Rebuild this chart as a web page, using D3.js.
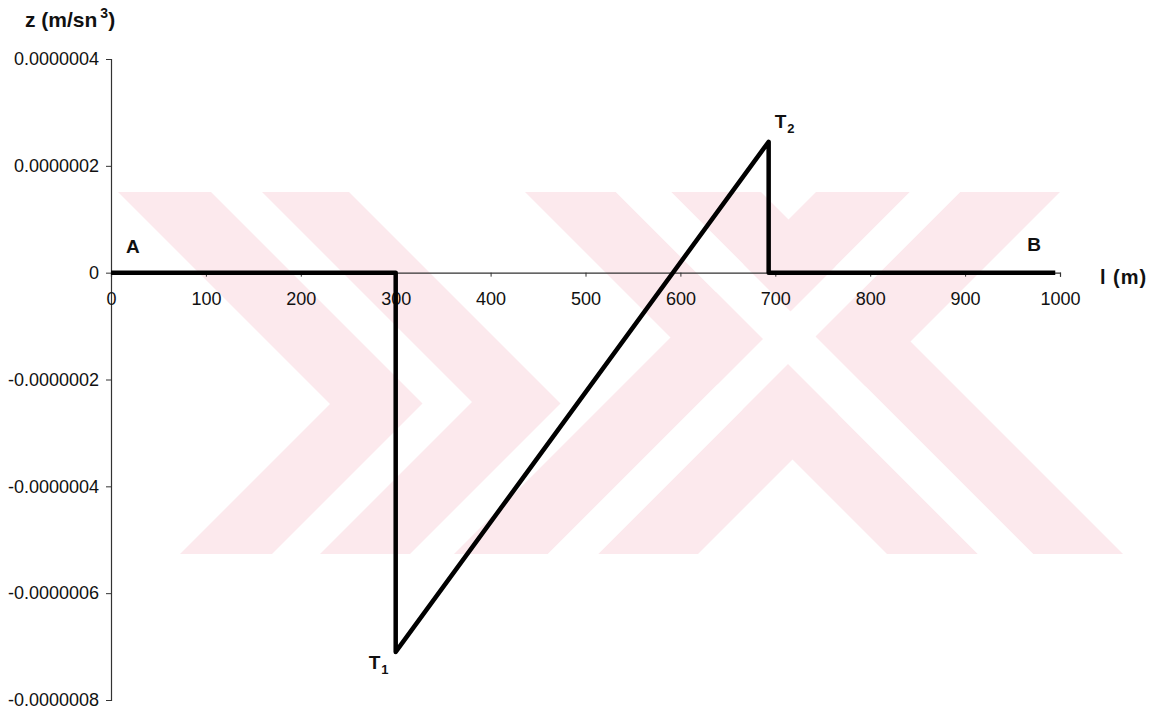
<!DOCTYPE html>
<html>
<head>
<meta charset="utf-8">
<script src="https://cdn.jsdelivr.net/npm/d3@7/dist/d3.min.js"></script>
<style>
  body { margin: 0; background: #ffffff; }
  svg { display: block; }
  text { font-family: Arial, "Liberation Sans", sans-serif; fill: #111; }
</style>
</head>
<body>
<svg id="chart" width="1156" height="715"></svg>
<script>
// Distance along the section, l (m)
const distance = [0, 300, 300, 693, 693, 995];
// Jerk z (m/sn^3) at each distance
const zValues = [0, 0, -7.1e-7, 2.45e-7, 0, 0];

// Axis ticks
const xTicks = [0, 100, 200, 300, 400, 500, 600, 700, 800, 900, 1000];
const yTicks = [-8e-7, -6e-7, -4e-7, -2e-7, 0, 2e-7, 4e-7];
const yTickLabels = ["-0.0000008", "-0.0000006", "-0.0000004", "-0.0000002", "0", "0.0000002", "0.0000004"];

// Named points on the profile
const pointNames = ["A", "B", "T", "T"];
const pointSubs = ["", "", "1", "2"];
const pointIndex = [0, 5, 2, 3];

const svg = d3.select("#chart");

// Faint background stamp: chevrons and crossed diagonal bands
const stampColor = "#fce9ed";
const stampBands = [
  [[118,192],[211,192],[422.5,403.5],[272,554],[180,554],[330,404]],
  [[262,192],[349,192],[560.5,403.5],[410,554],[320,554],[472,402]],
  [[816,192],[910,192],[548,554],[454,554]],
  [[960,192],[1060,192],[698,554],[598,554]],
  [[525,192],[616,192],[978,554],[887,554]],
  [[671,192],[761,192],[1123,554],[1033,554]]
];
// Gaps that run unbroken through the crossing
const stampGaps = [
  [[910,192],[960,192],[598,554],[548,554]],
  [[616,192],[671,192],[1033,554],[978,554]]
];
const stampLayer = svg.append("g");
stampLayer.selectAll("polygon.band")
  .data(stampBands)
  .join("polygon")
  .attr("class", "band")
  .attr("points", d => d.map(p => p.join(",")).join(" "))
  .attr("fill", stampColor);
stampLayer.selectAll("polygon.gap")
  .data(stampGaps)
  .join("polygon")
  .attr("class", "gap")
  .attr("points", d => d.map(p => p.join(",")).join(" "))
  .attr("fill", "#ffffff");

const x = d3.scaleLinear().domain([0, 1000]).range([111, 1060]);
const y = d3.scaleLinear().domain([-8e-7, 4e-7]).range([700, 59]);

// Vertical axis on the left
const yAxis = d3.axisLeft(y)
  .tickValues(yTicks)
  .tickFormat((d, i) => yTickLabels[i])
  .tickSizeOuter(0)
  .tickSize(5)
  .tickPadding(7);
const gy = svg.append("g").attr("transform", `translate(${x(0)},0)`).call(yAxis);
gy.select(".domain").attr("stroke", "#333").attr("stroke-width", 1.2);
gy.selectAll(".tick line").attr("stroke", "#333");
gy.selectAll(".tick text").attr("font-size", 18).attr("fill", "#111")
  .attr("font-family", "Arial, 'Liberation Sans', sans-serif");

// Horizontal axis through z = 0
const xAxis = d3.axisBottom(x)
  .tickValues(xTicks)
  .tickFormat(d3.format("d"))
  .tickSizeOuter(0)
  .tickSize(4)
  .tickPadding(16);
const gx = svg.append("g").attr("transform", `translate(0,${y(0)})`).call(xAxis);
gx.select(".domain").attr("stroke", "#333").attr("stroke-width", 1.2);
gx.selectAll(".tick line").attr("stroke", "#333");
gx.selectAll(".tick text").attr("font-size", 18).attr("fill", "#111")
  .attr("font-family", "Arial, 'Liberation Sans', sans-serif");

// Profile line
const pts = distance.map((d, i) => [d, zValues[i]]);
const line = d3.line().x(d => x(d[0])).y(d => y(d[1]));
svg.append("path")
  .attr("d", line(pts))
  .attr("fill", "none")
  .attr("stroke", "#000")
  .attr("stroke-width", 4.5)
  .attr("stroke-linejoin", "round")
  .attr("stroke-linecap", "butt");

// Point labels
const offsets = [[15, -20], [-28, -22], [-27, 17], [6, -14]];
pointIndex.forEach((idx, k) => {
  const t = svg.append("text")
    .attr("x", x(distance[idx]) + offsets[k][0])
    .attr("y", y(zValues[idx]) + offsets[k][1])
    .attr("font-size", 19)
    .attr("font-weight", "bold")
    .text(pointNames[k]);
  if (pointSubs[k]) {
    t.append("tspan").attr("font-size", 13).attr("dy", 5).attr("dx", 1).text(pointSubs[k]);
  }
});

// Axis titles
const yTitle = svg.append("text")
  .attr("x", 25).attr("y", 27)
  .attr("font-size", 21).attr("font-weight", "bold")
  .text("z (m/sn");
yTitle.append("tspan").attr("font-size", 14).attr("dy", -9).attr("dx", 3).text("3");
yTitle.append("tspan").attr("dy", 9).text(")");

svg.append("text")
  .attr("x", 1100).attr("y", 284)
  .attr("font-size", 20).attr("font-weight", "bold")
  .attr("letter-spacing", 1)
  .text("l (m)");
</script>
</body>
</html>
